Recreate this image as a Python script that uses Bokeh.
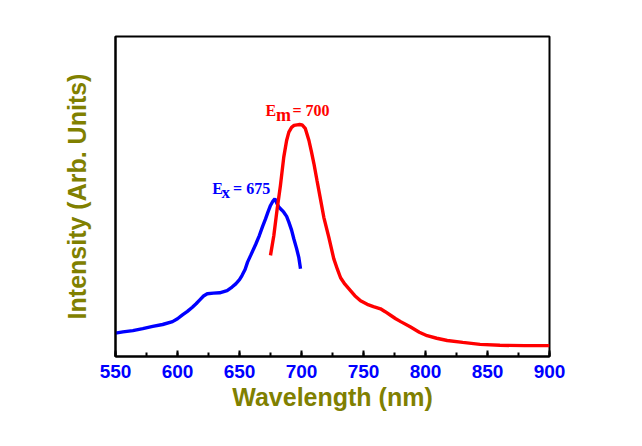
from bokeh.plotting import figure
from bokeh.models import Range1d, SingleIntervalTicker, FixedTicker, Label
from bokeh.embed import file_html
from bokeh.resources import INLINE

# Excitation spectrum (blue)
ex_wl = [550, 556, 564, 572, 580, 588, 596, 600, 604, 608, 612, 615, 618, 621, 624, 629, 634, 640,
         644, 647, 650, 652, 654.5, 656.5, 659, 663, 666, 668.5, 671, 673, 675, 677, 678.5,
         680, 681.7, 684, 685.7, 688, 689.8, 692, 693.8, 696, 697.8, 699.2]
ex_int = [7.3, 7.7, 8.1, 8.7, 9.4, 10.0, 10.9, 11.8, 13.0, 14.1, 15.4, 16.5, 17.7, 18.9, 19.6, 19.8, 19.9, 20.6,
          21.7, 22.7, 24.0, 25.3, 27.2, 29.5, 31.6, 35.0, 37.8, 40.5, 43.0, 45.2, 47.2, 48.6, 49.3,
          48.0, 46.7, 45.8, 45.1, 43.8, 42.0, 39.5, 36.8, 33.8, 31.0, 27.4]

# Emission spectrum (red)
em_wl = [675, 677.7, 680.4, 683, 685.7, 688, 689.8, 692, 694, 696.5, 698.5, 700.5, 703, 706, 708, 710,
         712.5, 715, 718, 722, 726, 729, 731.5, 735, 739.5, 743, 747.6, 753, 758, 763.7, 767.5, 771.8,
         776, 780, 788, 795, 801.3, 809, 817.5, 830, 844, 860, 880, 900]
em_int = [31.6, 37.8, 46.2, 53.4, 62.3, 67.5, 70.1, 71.6, 72.2, 72.4, 72.5, 72.4, 71.3, 67.5, 64.0, 60.3,
          55.0, 49.8, 43.5, 37.3, 30.6, 27.2, 24.6, 22.6, 20.6, 19.0, 17.4, 16.3, 15.6, 14.9, 14.0, 12.9,
          11.8, 10.9, 9.2, 7.6, 6.5, 5.7, 5.0, 4.4, 3.8, 3.5, 3.4, 3.4]

x_ticks_interval = 50
BLUE = "#0000ff"
RED = "#ff0000"
OLIVE = "#808000"

p = figure(width=626, height=430, output_backend="svg", toolbar_location=None,
           x_range=Range1d(550, 900), y_range=Range1d(0, 100),
           min_border_left=115, min_border_right=77, min_border_top=36, min_border_bottom=74)

p.background_fill_color = "white"
p.border_fill_color = "white"
p.outline_line_color = "black"
p.outline_line_width = 2
p.xgrid.visible = False
p.ygrid.visible = False

p.line(ex_wl, ex_int, line_color=BLUE, line_width=3.4)
p.line(em_wl, em_int, line_color=RED, line_width=3.4)

xa = p.xaxis[0]
xa.ticker = SingleIntervalTicker(interval=x_ticks_interval, num_minor_ticks=2)
xa.axis_line_color = "black"
xa.axis_line_width = 2
xa.major_tick_in = 6
xa.major_tick_out = 0
xa.minor_tick_in = 4
xa.minor_tick_out = 0
xa.major_tick_line_width = 2
xa.minor_tick_line_width = 2
xa.major_label_text_font = "Liberation Sans"
xa.major_label_text_font_style = "bold"
xa.major_label_text_font_size = "19px"
xa.major_label_text_color = BLUE
xa.major_label_standoff = 8
xa.axis_label = "Wavelength (nm)"
xa.axis_label_text_font = "Liberation Sans"
xa.axis_label_text_font_style = "bold"
xa.axis_label_text_font_size = "25px"
xa.axis_label_text_color = OLIVE
xa.axis_label_standoff = 2

ya = p.yaxis[0]
ya.ticker = FixedTicker(ticks=[])
ya.axis_line_color = "black"
ya.axis_line_width = 2
ya.axis_label = "Intensity (Arb. Units)"
ya.axis_label_text_font = "Liberation Sans"
ya.axis_label_text_font_style = "bold"
ya.axis_label_text_font_size = "25px"
ya.axis_label_text_color = OLIVE
ya.axis_label_standoff = 25

def lab(x, y, t, color, size):
    p.add_layout(Label(x=x, y=y, text=t, text_color=color, text_font="Liberation Serif",
                       text_font_style="bold", text_font_size=size,
                       text_align="left", text_baseline="alphabetic"))

lab(628.0, 52.4, "E", BLUE, "16px")
lab(635.5, 51.2, "x", BLUE, "17px")
lab(644.8, 52.4, "= 675", BLUE, "16px")

lab(671.0, 76.9, "E", RED, "16px")
lab(679.4, 75.6, "m", RED, "18px")
lab(692.7, 76.9, "= 700", RED, "16px")

open("out.html", "w").write(file_html(p, INLINE))
